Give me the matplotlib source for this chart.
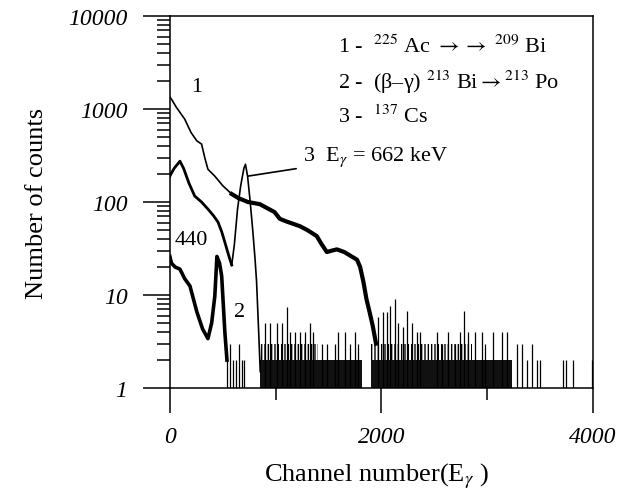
import numpy as np
import matplotlib
matplotlib.use('Agg')
import matplotlib.pyplot as plt

plt.rcParams['font.family'] = ['Liberation Serif', 'DejaVu Serif']
plt.rcParams['mathtext.fontset'] = 'stix'
plt.rcParams['hatch.linewidth'] = 1.0

# curve 1 : 225Ac -> 209Bi
ac_ch = [0, 20, 60, 140, 200, 255, 300, 330, 360, 425, 500, 585, 650, 740, 850, 990,
         1040, 1100, 1230, 1300, 1390, 1430, 1485, 1530, 1580, 1650, 1770, 1800, 1830,
         1860, 1890, 1920, 1950]
ac_cnt = [1350, 1250, 1050, 780, 560, 455, 420, 300, 225, 190, 150, 122, 110, 100, 95, 78,
          66, 62, 55, 50, 43, 36, 29, 30, 31, 29, 24, 20, 14, 9, 6.5, 4.6, 3]

# curve 2 : (beta-gamma) 213Bi -> 213Po
bg_ch = [0, 15, 50, 95, 140, 190, 255, 310, 360, 395, 425, 445, 470, 490, 520, 540]
bg_cnt = [26, 22, 20, 19, 15, 12.5, 6.6, 4.3, 3.4, 5, 9.7, 26, 22, 16, 4, 2]

# curve 3 : 137Cs
cs_ch = [0, 10, 40, 95, 130, 180, 235, 300, 360, 410, 455, 490, 520, 555, 585, 610,
         640, 670, 700, 715, 735, 760, 785, 805, 820, 840, 855]
cs_cnt = [190, 200, 230, 275, 230, 160, 116, 100, 84, 72, 61, 48, 37, 27, 21, 35,
          84, 150, 230, 255, 190, 100, 48, 25, 14, 4, 1.5]

# low count tail : dense blocks and single spikes
blk_start = [850, 1400, 1900, 2860]
blk_end = [1400, 1820, 2860, 3240]
blk_top = [3, 2, 3, 2]
tail_ch = [545, 570, 600, 625, 650, 680, 705, 898, 945, 1012, 1059, 1106, 1135, 1182,
           1229, 1277, 1324, 1352, 1437, 1485, 1560, 1589, 1655, 1702, 1750, 1778, 1970,
           2015, 2052, 2080, 2128, 2156, 2203, 2241, 2288, 2336, 2364, 2525, 2572, 2629,
           2695, 2742, 2780, 2818, 2884, 2950, 2979, 3054, 3140, 3187, 3281, 3329, 3376,
           3423, 3470, 3499, 3716, 3745, 3811, 3990]
tail_cnt = [2, 3, 2, 2, 3, 2, 2, 5, 5, 5, 5, 7.5, 4, 4,
            4, 4, 5, 4, 3, 3, 3, 4, 4, 3, 4, 3, 5.8,
            6.5, 6.5, 7.6, 9, 5, 4.5, 6.7, 5, 4, 4, 4, 3, 4,
            3, 4, 6.7, 4, 4, 4, 3, 4, 4, 4, 3, 3, 2,
            3, 2, 2, 2, 2, 2, 2]

fig = plt.figure(figsize=(6.2, 5.02), dpi=100)
ax = fig.add_axes([0.274, 0.225, 0.682, 0.741])

# curve 1: smooth start, noisy band afterwards
k = ac_ch.index(585)
ax.plot(ac_ch[:k + 1], ac_cnt[:k + 1], color='black', lw=1.2)
ax.plot(ac_ch[k:], ac_cnt[k:], color='black', lw=3.0)

# curve 3
k = cs_ch.index(585)
ax.plot(cs_ch[:k + 1], cs_cnt[:k + 1], color='black', lw=2.0)
ax.plot(cs_ch[k:], cs_cnt[k:], color='black', lw=1.2)

# curve 2
ax.plot(bg_ch, bg_cnt, color='black', lw=2.6)

# tail
for s, e, t in zip(blk_start, blk_end, blk_top):
    ax.fill_between([s, e], 1, 2, color='#111111', lw=0)
    if t > 2:
        ax.fill_between([s, e], 2, t, facecolor='white', edgecolor='black',
                        hatch='|||||', lw=0)
ax.vlines(tail_ch, 1, tail_cnt, color='black', lw=0.9)

ax.set_yscale('log')
ax.set_xlim(0, 4000)
ax.set_ylim(1, 10000)

ax.set_xticks([0, 2000, 4000])
ax.set_xticklabels(['0', '2000', '4000'], fontstyle='italic')
ax.set_xticks([1000, 3000], minor=True)
ax.set_yticks([1, 10, 100, 1000, 10000])
ax.set_yticklabels(['1', '10', '100', '1000', '10000'], fontstyle='italic')
ax.tick_params(axis='both', which='major', direction='out', labelsize=17, width=1.1)
ax.tick_params(axis='x', which='major', length=18, pad=9)
ax.tick_params(axis='x', which='minor', length=8.5, width=1.1)
ax.tick_params(axis='y', which='major', length=19.5, pad=11)
ax.tick_params(axis='y', which='minor', length=9.5, width=1.1)
for sp in ax.spines.values():
    sp.set_linewidth(1.1)

ax.set_xlabel(r'Channel number(E$_{\gamma}$ )', fontsize=19)
ax.set_ylabel('Number of counts', fontsize=19)
ax.xaxis.set_label_coords(0.49, -0.196)
ax.yaxis.set_label_coords(-0.288, 0.5)

# labels in the plot
ax.text(0.397, 0.919, r'1 -  $^{225}$ Ac $\rightarrow\rightarrow$ $^{209}$ Bi',
        transform=ax.transAxes, fontsize=16, va='center', ha='left')
ax.text(0.397, 0.825, r'2 -  (β–γ) $^{213}$ Bi$\rightarrow$$^{213}$ Po',
        transform=ax.transAxes, fontsize=16, va='center', ha='left')
ax.text(0.397, 0.731, r'3 -  $^{137}$ Cs',
        transform=ax.transAxes, fontsize=16, va='center', ha='left')
ax.text(255, 1730, '1', fontsize=16, ha='center', va='center')
ax.text(205, 40, '440', fontsize=16, ha='center', va='center')
ax.text(660, 6.6, '2', fontsize=16, ha='center', va='center')
ax.annotate(r'3  E$_{\gamma}$ = 662 keV', xy=(738, 190), xytext=(1260, 310),
            fontsize=16, va='center', ha='left',
            arrowprops=dict(arrowstyle='-', color='black', lw=1.2, shrinkA=3, shrinkB=0))

fig.savefig('out.png', dpi=100)
